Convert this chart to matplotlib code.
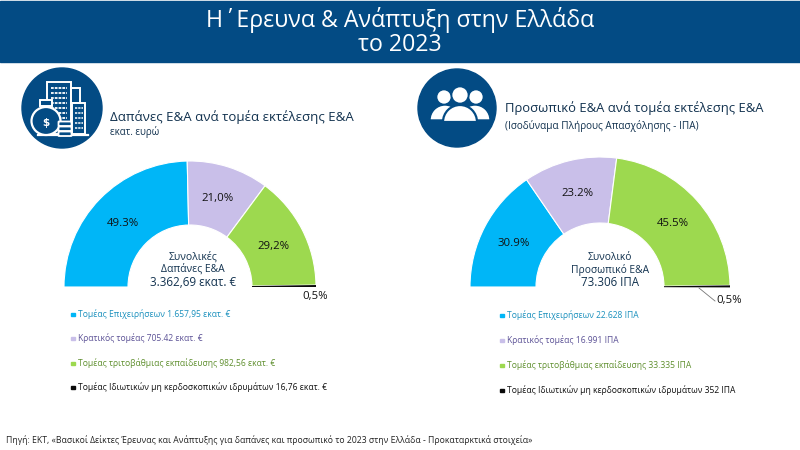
import matplotlib
matplotlib.use('Agg')
import matplotlib.pyplot as plt
from matplotlib.patches import Circle, Rectangle, Ellipse, FancyBboxPatch, Wedge

plt.rcParams['font.family'] = ['Open Sans', 'DejaVu Sans']

# Δεδομένα
pct_exp = [49.3, 21.0, 29.2, 0.5]
pct_staff = [30.9, 23.2, 45.5, 0.5]
labels_exp = ['49.3%', '21,0%', '29,2%', '0,5%']
labels_staff = ['30.9%', '23.2%', '45.5%', '0,5%']
legend_exp = ['Τομέας Επιχειρήσεων 1.657,95 εκατ. €',
              'Κρατικός τομέας 705.42 εκατ. €',
              'Τομέας τριτοβάθμιας εκπαίδευσης 982,56 εκατ. €',
              'Τομέας Ιδιωτικών μη κερδοσκοπικών ιδρυμάτων 16,76 εκατ. €']
legend_staff = ['Τομέας Επιχειρήσεων 22.628 ΙΠΑ',
                'Κρατικός τομέας 16.991 ΙΠΑ',
                'Τομέας τριτοβάθμιας εκπαίδευσης 33.335 ΙΠΑ',
                'Τομέας Ιδιωτικών μη κερδοσκοπικών ιδρυμάτων 352 ΙΠΑ']
center_exp = ['Συνολικές', 'Δαπάνες Ε&Α', '3.362,69 εκατ. €']
center_staff = ['Συνολικό', 'Προσωπικό Ε&Α', '73.306 ΙΠΑ']

colors = ['#00b6f7', '#c9bfe9', '#9dd94f', '#0a0a0a']
text_colors = ['#1a90bd', '#5c5296', '#5f8f2e', '#111111']
navy = '#034b84'
dark = '#12324f'

fig = plt.figure(figsize=(8, 4.5), dpi=100)
ax = fig.add_axes([0, 0, 1, 1])


def half_donut(vals, cx, cy, r_out, r_in):
    # normalize=False: το 100% πιάνει μισό κύκλο
    wedges, _ = ax.pie([v / 200 for v in vals], colors=colors, startangle=180, center=(cx, cy),
                       radius=r_out, normalize=False,
                       wedgeprops=dict(width=r_out - r_in, edgecolor='white', linewidth=0.8))
    # η μαύρη φέτα είναι πολύ λεπτή, χωρίς λευκό περίγραμμα
    wedges[3].set_edgecolor('none')


half_donut(pct_exp, 190, 287, 126, 62)
half_donut(pct_staff, 600, 287, 130, 64)

# Ο άξονας είναι σε pixel, με το y προς τα κάτω
ax.set_xlim(0, 800)
ax.set_ylim(450, 0)
ax.set_aspect('equal')
ax.axis('off')

# Επικεφαλίδα
ax.add_patch(Rectangle((0, 1), 800, 61, color=navy, zorder=1))
ax.text(400, 20, 'Η΄Ερευνα & Ανάπτυξη στην Ελλάδα', color='white', fontsize=16.7,
        ha='center', va='center', zorder=2)
ax.text(400, 45, 'το 2023', color='white', fontsize=16.7, ha='center', va='center', zorder=2)

# Τίτλοι ενοτήτων
ax.text(110, 117, 'Δαπάνες Ε&Α ανά τομέα εκτέλεσης Ε&Α', color=dark, fontsize=9.5, va='center')
ax.text(110, 132, 'εκατ. ευρώ', color=dark, fontsize=7, va='center')
ax.text(505, 108, 'Προσωπικό Ε&Α ανά τομέα εκτέλεσης Ε&Α', color=dark, fontsize=9.35, va='center')
ax.text(505, 126, '(Ισοδύναμα Πλήρους Απασχόλησης - ΙΠΑ)', color=dark, fontsize=7.2, va='center')

# Εικονίδιο δαπανών
ax.add_patch(Circle((62, 108), 40, color=navy))
for x, y, w, h in [(47, 82, 24, 52), (72, 103, 13, 31), (71, 88, 9, 15)]:
    ax.add_patch(Rectangle((x, y), w, h, fill=False, edgecolor='white', linewidth=1.4))
for y in range(88, 130, 5):
    ax.plot([51, 67], [y, y], color='white', lw=1.3, ls=(0, (1.5, 0.6)))
for y in range(108, 130, 5):
    ax.plot([75, 83], [y, y], color='white', lw=1.1, ls=(0, (1.5, 0.6)))
ax.plot([38, 88], [135, 135], color='white', lw=1.6)
ax.add_patch(Ellipse((46, 121), 29, 28, facecolor=navy, edgecolor='white', linewidth=1.6, zorder=3))
ax.add_patch(Rectangle((40, 100), 12, 6, facecolor=navy, edgecolor='white', linewidth=1.4, zorder=3))
ax.text(46, 123, '$', color='white', fontsize=7.5, fontweight='bold', ha='center', va='center', zorder=4,
        family='DejaVu Sans', parse_math=False)
for y in (124, 129, 134):
    ax.add_patch(FancyBboxPatch((59, y - 2), 12, 3.5, boxstyle='round,pad=0.5', facecolor=navy,
                                edgecolor='white', linewidth=1.3, zorder=5))

# Εικονίδιο προσωπικού
ax.add_patch(Circle((457, 108), 39, color=navy))
for x, y, r in [(444, 97, 7.5), (476, 97, 7.5), (460, 95, 8.5)]:
    ax.add_patch(Circle((x, y), r, facecolor='white', edgecolor=navy, linewidth=1.2, zorder=3))
for x, r in [(445, 15), (475, 15)]:
    ax.add_patch(Wedge((x, 120), r, 180, 360, facecolor='white', edgecolor=navy, linewidth=1.0, zorder=3))
ax.add_patch(Wedge((460, 122), 17, 180, 360, facecolor='white', edgecolor=navy, linewidth=1.6, zorder=4))

# Κείμενο στο κέντρο
for txt, y, fs in zip(center_exp, [257, 269, 283], [7.5, 7.5, 8.4]):
    ax.text(193, y, txt, color=dark, fontsize=fs, ha='center', va='center')
for txt, y, fs in zip(center_staff, [257, 270, 283], [7.4, 7.4, 8.3]):
    ax.text(610, y, txt, color=dark, fontsize=fs, ha='center', va='center')

# Ποσοστά
for txt, (x, y) in zip(labels_exp, [(123, 223), (218, 199), (274, 246), (315, 297)]):
    ax.text(x, y, txt, color='#111111', fontsize=8.2, ha='center', va='center')
for txt, (x, y) in zip(labels_staff, [(514, 244), (577, 194), (673, 224), (729, 301)]):
    ax.text(x, y, txt, color='#111111', fontsize=8.2, ha='center', va='center')
ax.plot([699, 715], [288, 301], color='#777777', lw=0.6)

# Υπόμνημα
for txt, col, tcol, y in zip(legend_exp, colors, text_colors, [314, 338, 363, 387]):
    ax.add_patch(Rectangle((71, y - 1.5), 4, 3, color=col))
    ax.text(78, y, txt, color=tcol, fontsize=6.15, va='center')
for txt, col, tcol, y in zip(legend_staff, colors, text_colors, [315, 340, 365, 390]):
    ax.add_patch(Rectangle((500, y - 1.5), 4, 3, color=col))
    ax.text(507, y, txt, color=tcol, fontsize=6.15, va='center')

# Πηγή
ax.text(6, 440, 'Πηγή: ΕΚΤ, «Βασικοί Δείκτες Έρευνας και Ανάπτυξης για δαπάνες και προσωπικό '
        'το 2023 στην Ελλάδα - Προκαταρκτικά στοιχεία»', color='#222222', fontsize=6.2, va='center')

fig.savefig('out.png', dpi=100)
